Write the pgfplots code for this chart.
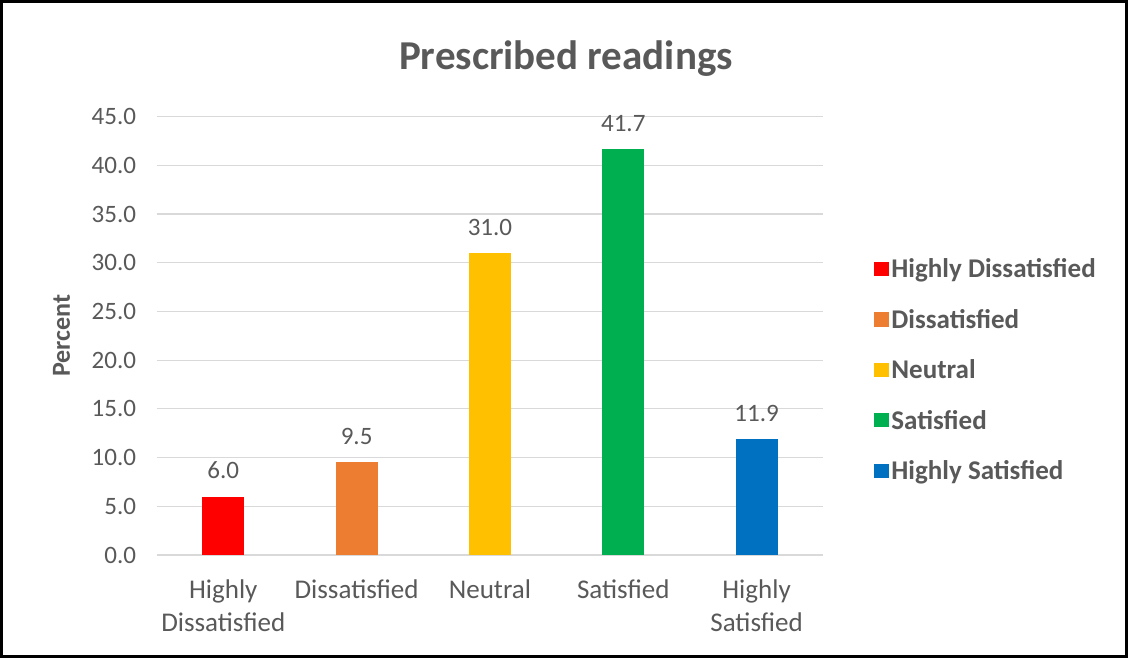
\documentclass[border=0pt]{standalone}
\usepackage{pgfplots}
\pgfplotsset{compat=1.18}
\usepackage{fontspec}
\setmainfont{Carlito}
\definecolor{txt}{RGB}{89,89,89}
\definecolor{gridc}{RGB}{217,217,217}
\definecolor{c1}{RGB}{255,0,0}
\definecolor{c2}{RGB}{237,125,49}
\definecolor{c3}{RGB}{255,192,0}
\definecolor{c4}{RGB}{0,176,80}
\definecolor{c5}{RGB}{0,112,192}
\begin{document}
\begin{tikzpicture}[x=1bp,y=1bp]
\begin{axis}[
  at={(0,0)}, anchor=south west,
  scale only axis, width=666bp, height=438bp,
  ybar, bar width=42bp,
  xmin=-0.5, xmax=4.5, ymin=0, ymax=45,
  xtick={0,1,2,3,4},
  xticklabels={Highly\\Dissatisfied,Dissatisfied,Neutral,Satisfied,Highly\\Satisfied},
  x tick label style={align=center, font=\fontsize{27bp}{33bp}\selectfont, text=txt, yshift=-21bp},
  ytick={0,5,...,45},
  yticklabel style={/pgf/number format/.cd, fixed, fixed zerofill, precision=1, /tikz/.cd, font=\fontsize{25bp}{30bp}\selectfont, text=txt, xshift=-17bp},
  /pgf/number format/assume math mode=true,
  ymajorgrids, grid style={gridc, line width=1.2bp},
  axis y line*=left, axis x line*=bottom,
  y axis line style={draw=none},
  x axis line style={gridc, line width=1.5bp, -},
  major tick length=0pt,
  ylabel={\textbf{Percent}},
  every axis y label/.style={at={(rel axis cs:-0.1426,0.5)}, rotate=90, anchor=center,
    font=\fontsize{26bp}{30bp}\selectfont, text=txt},
  title={\textbf{Prescribed readings}}, title style={font=\fontsize{41bp}{48bp}\selectfont, text=txt, xshift=76bp, yshift=31bp},
  nodes near coords,
  nodes near coords style={/pgf/number format/.cd, fixed, fixed zerofill, precision=1, /tikz/.cd, font=\fontsize{25bp}{30bp}\selectfont, text=txt, yshift=14bp},
  every node near coord/.append style={/pgf/number format/assume math mode=true},
  legend style={draw=none, fill=none, at={(rel axis cs:1.072,0.422)}, anchor=west,
    font=\fontsize{27bp}{30bp}\selectfont\bfseries, text=txt, row sep=26bp,
    legend cell align=left},
  legend image code/.code={\fill[#1] (0bp,-7bp) rectangle (15bp,7bp);},
  clip=false,
]
\addplot[fill=c1, draw=none, bar shift=0pt] coordinates {(0,6.0)};
\addplot[fill=c2, draw=none, bar shift=0pt] coordinates {(1,9.5)};
\addplot[fill=c3, draw=none, bar shift=0pt] coordinates {(2,31.0)};
\addplot[fill=c4, draw=none, bar shift=0pt] coordinates {(3,41.7)};
\addplot[fill=c5, draw=none, bar shift=0pt] coordinates {(4,11.9)};
\legend{Highly Dissatisfied,Dissatisfied,Neutral,Satisfied,Highly Satisfied}
\end{axis}
\draw[line width=3bp] (-155bp,-101bp) rectangle (969bp,553bp);
\end{tikzpicture}
\end{document}
